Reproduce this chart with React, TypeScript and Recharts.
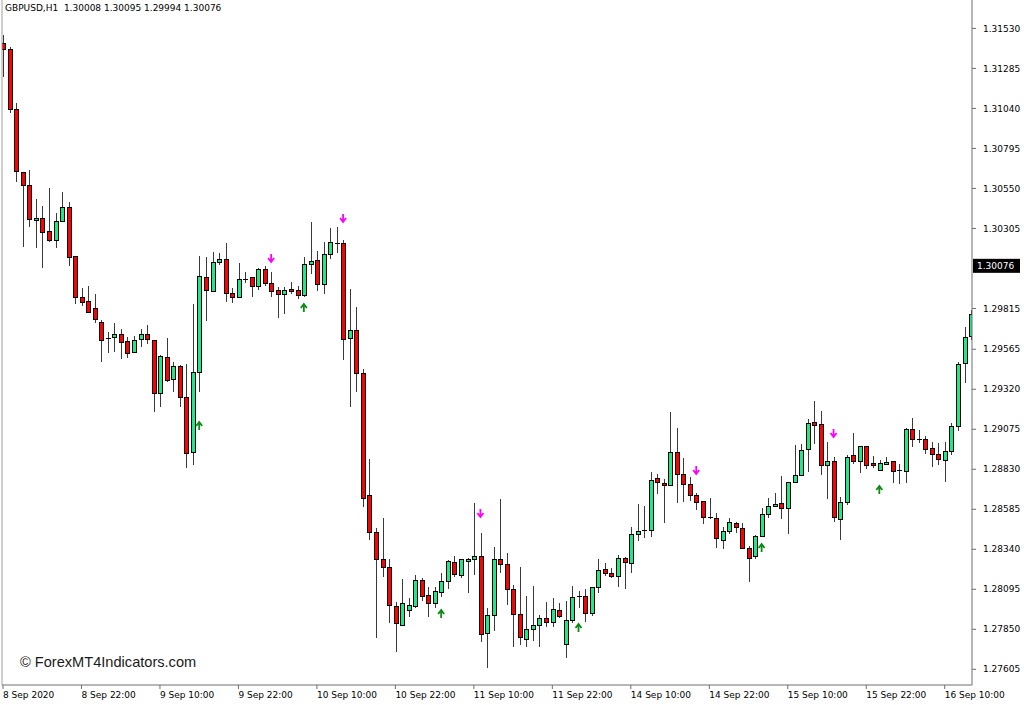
/**
 * GBPUSD H1 candlestick chart, MT4 look: red/green candles, signal arrows,
 * price scale on the right and a black tag for the current price.
 */
import {
  ComposedChart,
  Bar,
  Scatter,
  XAxis,
  YAxis,
  ReferenceLine,
} from "recharts";

// OHLC per hourly bar, starting 8 Sep 2020 10:00
const OPEN = [
  1.31439, 1.31398, 1.31035, 1.30647, 1.30567, 1.30355, 1.30367, 1.30284, 1.3023, 1.30347,
  1.30435, 1.30133, 1.29884, 1.29857, 1.29814, 1.2973, 1.29628, 1.29636, 1.29654, 1.29614,
  1.29544, 1.29622, 1.29653, 1.29618, 1.29296, 1.29516, 1.29377, 1.29458, 1.29269, 1.28934,
  1.29424, 1.30006, 1.2992, 1.30095, 1.30116, 1.29904, 1.29884, 1.2999, 1.30006, 1.29948,
  1.30055, 1.29965, 1.29928, 1.29899, 1.29933, 1.29928, 1.29893, 1.30086, 1.30106, 1.29959,
  1.30147, 1.30214, 1.30214, 1.29632, 1.29683, 1.29418, 1.28668, 1.28442, 1.28279, 1.2823,
  1.27988, 1.27872, 1.27964, 1.27988, 1.28148, 1.28056, 1.28009, 1.28074, 1.28142, 1.28258,
  1.28177, 1.28268, 1.28279, 1.28299, 1.27826, 1.27932, 1.28279, 1.28244, 1.28091, 1.27942,
  1.27789, 1.2785, 1.27876, 1.27917, 1.2789, 1.27968, 1.27758, 1.27907, 1.28054, 1.2805,
  1.27948, 1.28105, 1.28218, 1.28193, 1.28172, 1.28281, 1.28254, 1.28432, 1.28454, 1.28458,
  1.28771, 1.28744, 1.2873, 1.28934, 1.28801, 1.28738, 1.28668, 1.28634, 1.28536, 1.2853,
  1.28393, 1.28448, 1.28499, 1.28469, 1.28346, 1.28295, 1.28417, 1.28554, 1.28603, 1.28622,
  1.28591, 1.28748, 1.28795, 1.28953, 1.29114, 1.29107, 1.28856, 1.28877, 1.2852, 1.28624,
  1.28912, 1.28877, 1.28971, 1.28867, 1.28821, 1.28861, 1.28876, 1.2882, 1.28815, 1.29075,
  1.29014, 1.29014, 1.28959, 1.28918, 1.28883, 1.28938, 1.29095, 1.29475, 1.29642,
];
const HIGH = [
  1.3149, 1.31418, 1.31072, 1.30653, 1.30663, 1.30484, 1.30443, 1.30551, 1.30402, 1.30527,
  1.30465, 1.30137, 1.29942, 1.29953, 1.29902, 1.29745, 1.29673, 1.29724, 1.29688, 1.29642,
  1.29647, 1.29688, 1.29714, 1.2962, 1.2953, 1.29632, 1.29489, 1.29469, 1.29475, 1.29842,
  1.30137, 1.30132, 1.30163, 1.30153, 1.30214, 1.29939, 1.30095, 1.3004, 1.3001, 1.30061,
  1.30075, 1.3004, 1.29945, 1.29945, 1.29975, 1.29953, 1.30132, 1.30343, 1.30167, 1.3022,
  1.30306, 1.30316, 1.30235, 1.29932, 1.29826, 1.29442, 1.28891, 1.28469, 1.2853, 1.28282,
  1.28019, 1.28156, 1.2804, 1.28183, 1.28162, 1.28107, 1.28111, 1.28193, 1.28275, 1.28299,
  1.28279, 1.28285, 1.28622, 1.28438, 1.27979, 1.28352, 1.28646, 1.28316, 1.28121, 1.2823,
  1.28054, 1.28115, 1.27938, 1.28019, 1.2804, 1.28013, 1.28023, 1.28115, 1.28085, 1.28095,
  1.28111, 1.28279, 1.28258, 1.28224, 1.28305, 1.28291, 1.28475, 1.28616, 1.28605, 1.28815,
  1.28799, 1.28771, 1.29179, 1.29085, 1.28897, 1.28785, 1.28683, 1.28636, 1.28652, 1.28564,
  1.28475, 1.2853, 1.28509, 1.28503, 1.28362, 1.28428, 1.28591, 1.28652, 1.28683, 1.28789,
  1.28754, 1.28979, 1.28983, 1.29138, 1.29248, 1.29189, 1.28999, 1.28907, 1.2866, 1.28918,
  1.29051, 1.28973, 1.28973, 1.28912, 1.28887, 1.28907, 1.28877, 1.28861, 1.29081, 1.29142,
  1.29071, 1.29034, 1.28999, 1.28989, 1.28999, 1.29115, 1.29489, 1.29703, 1.29806,
];
const LOW = [
  1.31235, 1.3101, 1.30592, 1.30193, 1.30316, 1.30187, 1.30061, 1.30224, 1.30187, 1.30343,
  1.30077, 1.29843, 1.2983, 1.29786, 1.29728, 1.29489, 1.29544, 1.2955, 1.29504, 1.29514,
  1.29541, 1.29577, 1.29597, 1.29179, 1.2921, 1.29367, 1.29305, 1.29213, 1.28836, 1.28856,
  1.29305, 1.29738, 1.29918, 1.30081, 1.29857, 1.29847, 1.29877, 1.29969, 1.29884, 1.29928,
  1.29953, 1.29884, 1.29755, 1.29779, 1.29904, 1.29873, 1.29887, 1.30026, 1.29924, 1.29904,
  1.30116, 1.30153, 1.29499, 1.29213, 1.29305, 1.28597, 1.28397, 1.27799, 1.28169, 1.2789,
  1.27713, 1.2787, 1.27927, 1.27979, 1.28025, 1.27927, 1.27979, 1.2805, 1.28095, 1.28172,
  1.28162, 1.28074, 1.28183, 1.27774, 1.27611, 1.2784, 1.28197, 1.27999, 1.27743, 1.27754,
  1.27743, 1.27778, 1.27743, 1.27866, 1.27866, 1.27917, 1.27672, 1.27887, 1.27979, 1.27897,
  1.27932, 1.28071, 1.28177, 1.28166, 1.28111, 1.28095, 1.28197, 1.28393, 1.28407, 1.28417,
  1.28677, 1.28503, 1.28728, 1.28625, 1.28632, 1.28636, 1.28581, 1.28495, 1.28524, 1.2835,
  1.28342, 1.28432, 1.28438, 1.28342, 1.28138, 1.28281, 1.28415, 1.2853, 1.28601, 1.28526,
  1.28432, 1.28744, 1.28793, 1.28815, 1.28983, 1.28793, 1.28648, 1.28507, 1.28397, 1.28611,
  1.28863, 1.28806, 1.2883, 1.28836, 1.2882, 1.28856, 1.28748, 1.28738, 1.28744, 1.28968,
  1.28989, 1.28924, 1.28846, 1.28856, 1.28754, 1.28918, 1.29066, 1.29357, 1.29622,
];
const CLOSE = [
  1.31398, 1.31031, 1.30653, 1.30567, 1.30357, 1.30365, 1.30282, 1.3023, 1.30347, 1.30435,
  1.30129, 1.29884, 1.29853, 1.29789, 1.29749, 1.29618, 1.29627, 1.29654, 1.29608, 1.29541,
  1.29618, 1.29653, 1.29622, 1.29296, 1.2952, 1.29373, 1.29458, 1.29269, 1.28928, 1.29424,
  1.3001, 1.29924, 1.30095, 1.30116, 1.29908, 1.29884, 1.2999, 1.29989, 1.29948, 1.30055,
  1.29965, 1.29918, 1.29899, 1.29928, 1.29918, 1.29893, 1.30086, 1.30104, 1.29959, 1.30147,
  1.3022, 1.30213, 1.29622, 1.29679, 1.29418, 1.28652, 1.28442, 1.28279, 1.2823, 1.27993,
  1.27887, 1.28009, 1.27995, 1.28148, 1.28054, 1.28009, 1.2808, 1.28142, 1.28264, 1.28183,
  1.28275, 1.28276, 1.28299, 1.27821, 1.27932, 1.28279, 1.28244, 1.28091, 1.27942, 1.27801,
  1.27846, 1.27876, 1.27917, 1.2789, 1.27974, 1.27927, 1.27907, 1.28046, 1.28053, 1.27944,
  1.28105, 1.28213, 1.28189, 1.28172, 1.28285, 1.28258, 1.28432, 1.28452, 1.28453, 1.28764,
  1.28748, 1.28728, 1.28934, 1.28801, 1.28734, 1.28668, 1.28628, 1.28536, 1.28535, 1.28407,
  1.28448, 1.28503, 1.28472, 1.28346, 1.28285, 1.28417, 1.28554, 1.28601, 1.28613, 1.28591,
  1.28748, 1.28789, 1.28948, 1.29112, 1.29101, 1.28856, 1.28877, 1.28532, 1.28624, 1.28905,
  1.28877, 1.28972, 1.28856, 1.28852, 1.28863, 1.28873, 1.28815, 1.28819, 1.29075, 1.29014,
  1.29013, 1.28953, 1.28918, 1.28887, 1.28938, 1.29091, 1.29469, 1.29639, 1.29781,
];

// signal arrows: bar index + price level of the glyph
const SELL_BARS = [41, 52, 73, 106, 127];
const SELL_PRICES = [1.30124, 1.30369, 1.28562, 1.28826, 1.29052];
const BUY_BARS = [30, 46, 67, 88, 116, 134];
const BUY_PRICES = [1.29095, 1.29818, 1.27944, 1.27858, 1.28348, 1.28703];

const X_TICK_BARS = [0, 12, 24, 36, 48, 60, 72, 84, 96, 108, 120, 132, 144];
const X_TICK_LABELS = [
  "8 Sep 2020", "8 Sep 22:00", "9 Sep 10:00", "9 Sep 22:00", "10 Sep 10:00",
  "10 Sep 22:00", "11 Sep 10:00", "11 Sep 22:00", "14 Sep 10:00", "14 Sep 22:00",
  "15 Sep 10:00", "15 Sep 22:00", "16 Sep 10:00",
];
const PRICE_TICKS = [
  1.31530, 1.31285, 1.31040, 1.30795, 1.30550, 1.30305, 1.29815, 1.29565,
  1.29320, 1.29075, 1.28830, 1.28585, 1.28340, 1.28095, 1.27850, 1.27605,
];
const LAST_PRICE = 1.30076;

const X_DOMAIN: [number, number] = [-0.153, 148.17];
const Y_DOMAIN: [number, number] = [1.27509, 1.31704];

const FONT = "'DejaVu Sans', Verdana, sans-serif";
const BULL = "#1de98b";
const BEAR = "#ff0000";

interface Row {
  i: number;
  open: number;
  high: number;
  low: number;
  close: number;
}

const rows: Row[] = OPEN.map((open, i) => ({
  i,
  open,
  high: HIGH[i],
  low: LOW[i],
  close: CLOSE[i],
}));
const sells = SELL_BARS.map((i, k) => ({ i, price: SELL_PRICES[k] }));
const buys = BUY_BARS.map((i, k) => ({ i, price: BUY_PRICES[k] }));

function CandleShape(props: any) {
  const { x, y, width, height, payload } = props;
  const { open, high, low, close } = payload as Row;
  const cx = Math.round(x + width / 2) + 0.5;
  // linear position inside the [low, high] span the bar was given
  const py = (v: number) => y + ((high - v) / (high - low)) * height;
  const top = py(Math.max(open, close));
  const bot = py(Math.min(open, close));
  const doji = bot - top < 1.2;
  return (
    <g shapeRendering="crispEdges">
      <line x1={cx} x2={cx} y1={y} y2={y + height} stroke="#3a3a3a" strokeWidth={1} />
      {doji ? (
        <line x1={cx - 2.5} x2={cx + 2.5} y1={top} y2={top} stroke="#000" strokeWidth={1} />
      ) : (
        <rect
          x={cx - 2}
          y={top}
          width={4}
          height={bot - top}
          fill={close >= open ? BULL : BEAR}
          stroke="#000"
          strokeWidth={1}
        />
      )}
    </g>
  );
}

const SellArrow = ({ cx, cy }: any) => (
  <path
    d={`M${cx},${cy - 4} L${cx},${cy + 3} M${cx - 3},${cy} L${cx},${cy + 4} L${cx + 3},${cy}`}
    stroke="#ff00ff"
    strokeWidth={1.8}
    fill="none"
  />
);

const BuyArrow = ({ cx, cy }: any) => (
  <path
    d={`M${cx},${cy + 4} L${cx},${cy - 3} M${cx - 3},${cy} L${cx},${cy - 4} L${cx + 3},${cy}`}
    stroke="#0b8a14"
    strokeWidth={1.8}
    fill="none"
  />
);

const TimeTick = ({ x, y, payload }: any) => (
  <text x={x} y={y + 7} fontSize={9} fontFamily={FONT} fill="#000" textAnchor="start">
    {X_TICK_LABELS[X_TICK_BARS.indexOf(payload.value)]}
  </text>
);

const PriceTick = ({ x, y, payload }: any) => (
  <text x={x + 5} y={y} dy="0.35em" fontSize={9} fontFamily={FONT} fill="#000">
    {payload.value.toFixed(5)}
  </text>
);

const PriceTag = ({ viewBox }: any) => {
  const right = viewBox.x + viewBox.width;
  return (
    <g>
      <rect x={right + 1} y={viewBox.y - 7} width={47} height={14} fill="#000" />
      <text x={right + 5} y={viewBox.y} dy="0.35em" fontSize={9} fontFamily={FONT} fill="#fff">
        {LAST_PRICE.toFixed(5)}
      </text>
    </g>
  );
};

export default function App() {
  return (
    <div
      style={{
        position: "absolute",
        left: 0,
        top: 0,
        width: 1024,
        height: 705,
        background: "#fff",
      }}
    >
      <ComposedChart
        width={1024}
        height={705}
        data={rows}
        margin={{ top: 0, right: 0, bottom: 0, left: 2 }}
      >
        <XAxis
          type="number"
          dataKey="i"
          domain={X_DOMAIN}
          allowDataOverflow
          ticks={X_TICK_BARS}
          interval={0}
          tick={<TimeTick />}
          tickSize={4}
          height={20}
          axisLine={{ stroke: "#6e6e6e" }}
          tickLine={{ stroke: "#6e6e6e" }}
        />
        <YAxis
          orientation="right"
          type="number"
          domain={Y_DOMAIN}
          allowDataOverflow
          ticks={PRICE_TICKS}
          interval={0}
          tick={<PriceTick />}
          tickSize={4}
          width={52}
          axisLine={{ stroke: "#6e6e6e" }}
          tickLine={{ stroke: "#6e6e6e" }}
        />
        <ReferenceLine x={X_DOMAIN[0]} stroke="#a0a0a0" />
        <Bar
          dataKey={(d: Row) => [d.low, d.high]}
          barSize={5}
          shape={<CandleShape />}
          isAnimationActive={false}
        />
        <Scatter data={sells} dataKey="price" shape={<SellArrow />} isAnimationActive={false} />
        <Scatter data={buys} dataKey="price" shape={<BuyArrow />} isAnimationActive={false} />
        <ReferenceLine y={LAST_PRICE} stroke="none" label={<PriceTag />} />
      </ComposedChart>

      <div
        style={{
          position: "absolute",
          left: 5,
          top: 3,
          fontFamily: FONT,
          fontSize: 9,
          lineHeight: "11px",
          whiteSpace: "pre",
          color: "#000",
        }}
      >
        {"GBPUSD,H1  1.30008 1.30095 1.29994 1.30076"}
      </div>
      <div
        style={{
          position: "absolute",
          left: 20,
          top: 654,
          fontFamily: "'Liberation Sans', Arial, sans-serif",
          fontSize: 14.6,
          lineHeight: "16px",
          color: "#1a1a1a",
        }}
      >
        © ForexMT4Indicators.com
      </div>
    </div>
  );
}
